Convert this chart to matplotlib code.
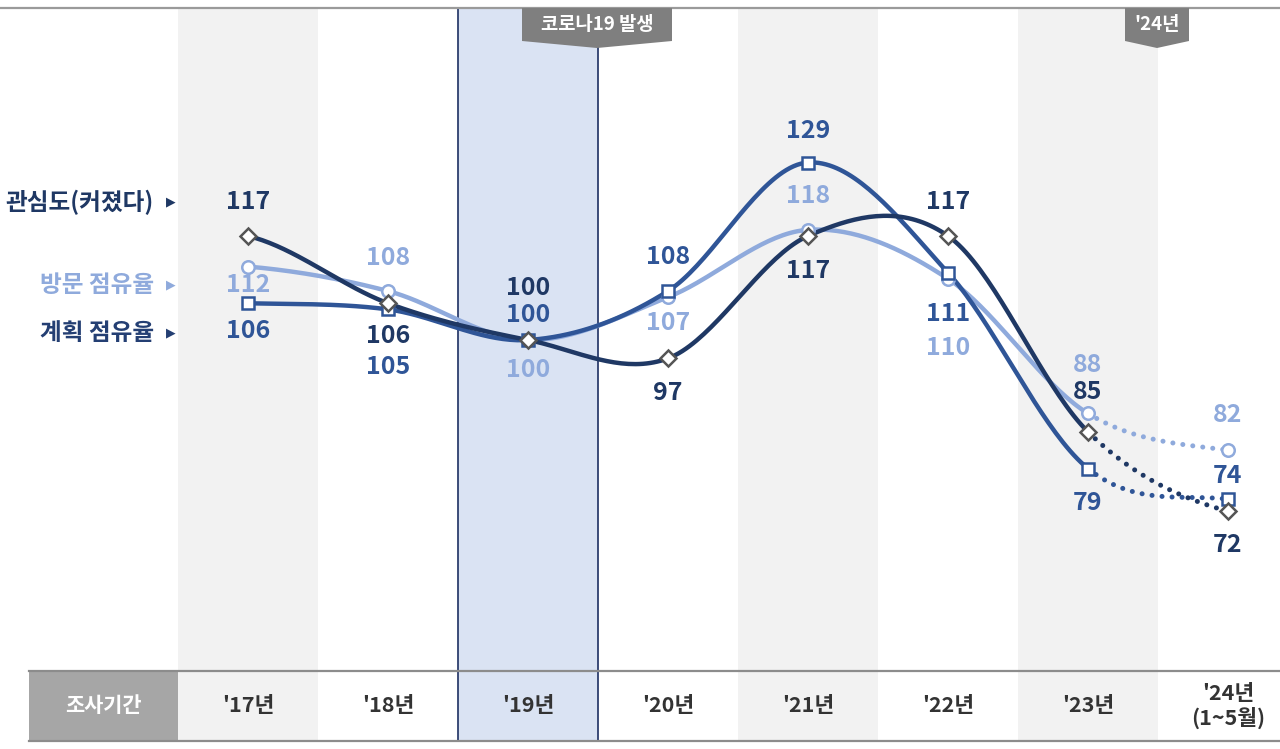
import numpy as np
import matplotlib
matplotlib.use('Agg')
import matplotlib.pyplot as plt
from matplotlib.patches import Rectangle, Polygon

plt.rcParams['font.family'] = ['Noto Sans CJK KR', 'DejaVu Sans']

# ---------------- data ----------------
years = ["'17년", "'18년", "'19년", "'20년", "'21년", "'22년", "'23년", "'24년\n(1~5월)"]
interest = [117, 106, 100, 97, 117, 117, 85, 72]     # 관심도(커졌다)
visit = [112, 108, 100, 107, 118, 110, 88, 82]       # 방문 점유율
plan = [106, 105, 100, 108, 129, 111, 79, 74]        # 계획 점유율
series_names = ['관심도(커졌다)', '방문 점유율', '계획 점유율']
period_label = '조사기간'
covid_label = '코로나19 발생'
year24_label = "'24년"

# ---------------- layout helpers (pixel -> data) ----------------
X0, DX = 248.0, 140.0
Y100, DY = 340.0, 6.12
def px2x(px):
    return (px - X0) / DX
def py2y(py):
    return 100.0 - (py - Y100) / DY

W, H = 1280, 749
fig = plt.figure(figsize=(W / 100, H / 100), dpi=100)
ax = fig.add_axes([0, 0, 1, 1])
ax.set_xlim(px2x(0), px2x(W))
ax.set_ylim(py2y(H), py2y(0))
ax.axis('off')

NAVY = '#1f3864'
MED = '#2f5597'
LIGHT = '#8faadc'
GRAYBAND = '#f2f2f2'
BLUEBAND = '#dae3f3'

top_y = py2y(8)
tab_top = py2y(671)
tab_bot = py2y(741)
n = len(years)

# column bands
for i in range(n):
    if i in (0, 4, 6):
        ax.add_patch(Rectangle((i - 0.5, tab_bot), 1, top_y - tab_bot, color=GRAYBAND, lw=0, zorder=0))
    elif i == 2:
        ax.add_patch(Rectangle((i - 0.5, tab_bot), 1, top_y - tab_bot, color=BLUEBAND, lw=0, zorder=0))
for xv in (1.5, 2.5):
    ax.plot([xv, xv], [tab_bot, top_y], color='#2e3f6e', lw=1.3, zorder=1)

# top line and table lines
ax.plot([px2x(0), px2x(W)], [top_y, top_y], color='#9a9a9a', lw=1.6, zorder=2)
ax.plot([px2x(29), px2x(W)], [tab_top, tab_top], color='#8c8c8c', lw=1.6, zorder=2)
ax.plot([px2x(29), px2x(W)], [tab_bot, tab_bot], color='#8c8c8c', lw=1.6, zorder=2)
ax.add_patch(Rectangle((px2x(29), tab_bot), px2x(178) - px2x(29), tab_top - tab_bot,
                       color='#a6a6a6', lw=0, zorder=1))
ax.text((px2x(29) + px2x(178)) / 2, (tab_top + tab_bot) / 2, period_label, color='white',
        fontsize=15, fontweight='bold', ha='center', va='center', zorder=3)
for i, lab in enumerate(years):
    ax.text(i, (tab_top + tab_bot) / 2, lab, color='#333333', fontsize=15.5, fontweight='bold',
            ha='center', va='center', linespacing=1.2, zorder=3)

# top tabs
def tab(cx_px, half_w, text, fs):
    cx = px2x(cx_px)
    hw = half_w / DX
    poly = [(cx - hw, top_y), (cx + hw, top_y), (cx + hw, py2y(41)), (cx, py2y(48)), (cx - hw, py2y(41))]
    ax.add_patch(Polygon(poly, closed=True, color='#7f7f7f', lw=0, zorder=4))
    ax.text(cx, py2y(25), text, color='white', fontsize=fs, fontweight='bold',
            ha='center', va='center', zorder=5)
tab(597, 75, covid_label, 13.5)
tab(1157, 32, year24_label, 13.5)

# smooth curve (Catmull-Rom / Hermite)
def smooth(vals, steps=40):
    v = np.asarray(vals, float)
    m = np.zeros_like(v)
    m[1:-1] = (v[2:] - v[:-2]) / 2
    m[0] = (v[1] - v[0]) / 2
    m[-1] = (v[-1] - v[-2]) / 2
    segs = []
    t = np.linspace(0, 1, steps)
    h00 = 2 * t**3 - 3 * t**2 + 1
    h10 = t**3 - 2 * t**2 + t
    h01 = -2 * t**3 + 3 * t**2
    h11 = t**3 - t**2
    for i in range(len(v) - 1):
        ys = h00 * v[i] + h10 * m[i] + h01 * v[i + 1] + h11 * m[i + 1]
        segs.append((i + t, ys))
    return segs

series = [
    (visit, LIGHT, 'o', LIGHT, 9, [18, -33, 30, 26, -34, 69, -48, -35], 3),
    (plan, MED, 's', MED, 9, [28, 58, -25, -34, -32, 41, 34, -23], 4),
    (interest, NAVY, 'D', '#555555', 8, [-34, 33, -52, 35, 35, -34, -40, 34], 5),
]
for vals, col, mk, mec, ms, offs, z in series:
    segs = smooth(vals)
    xs = np.concatenate([s[0] for s in segs[:-1]])
    ys = np.concatenate([s[1] for s in segs[:-1]])
    ax.plot(xs, ys, color=col, lw=3.2, solid_capstyle='round', zorder=z)
    lx, ly = segs[-1]
    ax.plot(lx, ly, color=col, lw=3.6, linestyle=(0, (0.01, 2.0)), dash_capstyle='round', zorder=z)
    ax.plot(range(n), vals, linestyle='none', marker=mk, ms=ms, mfc='white', mec=mec, mew=1.8, zorder=z + 3)
    for i, v in enumerate(vals):
        ax.annotate(str(v), (i, v), xytext=(0, -offs[i]), textcoords='offset pixels',
                    ha='center', va='center', color=col, fontsize=18, fontweight='bold', zorder=10)

# left labels
left = [(series_names[0], NAVY, 202), (series_names[1], LIGHT, 285), (series_names[2], '#243f73', 333)]
for name, col, ypx in left:
    ax.text(px2x(154), py2y(ypx), name, color=col, fontsize=17, fontweight='bold', ha='right', va='center')
    ax.text(px2x(171), py2y(ypx), '▶', color=col, fontsize=9, ha='center', va='center',
            family=['DejaVu Sans'])

fig.savefig('out.png', dpi=100)
